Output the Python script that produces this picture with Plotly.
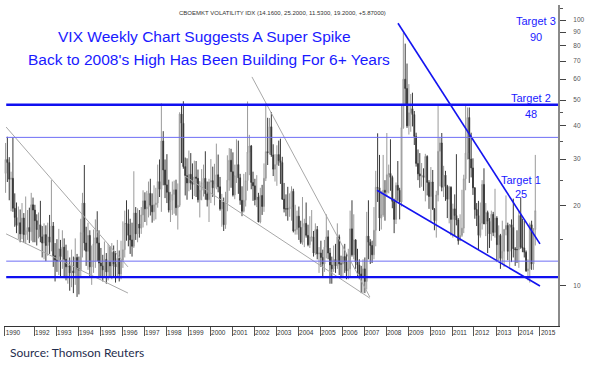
import pandas as pd
import plotly.graph_objects as go

# ---------------- data (monthly approximation of weekly VIX, Sep 1990 - Oct 2014) -------------
start_month = "1990-09-01"
vix_open = [
    26.5, 29.9, 29.1, 25.2,
    25.4, 19.6, 18.1, 16.9, 17.3, 15.7, 18.0, 15.6, 16.2, 16.6, 16.0, 20.2,
    19.3, 17.6, 16.3, 17.0, 15.3, 14.5, 15.6, 14.2, 15.3, 14.6, 16.8, 13.0,
    12.5, 12.4, 13.8, 12.9, 14.0, 12.6, 11.8, 11.9, 11.2, 11.4, 11.2, 12.8,
    11.6, 11.5, 15.9, 20.5, 14.5, 13.5, 15.5, 11.8, 12.3, 14.4, 15.2, 14.5,
    12.2, 11.9, 11.5, 12.6, 11.3, 12.3, 11.9, 13.4, 12.1, 11.8, 12.7, 11.1,
    12.5, 13.7, 17.2, 17.1, 15.5, 14.9, 14.1, 18.8, 15.7, 17.1, 16.5, 18.5,
    20.9, 19.5, 19.8, 22.3, 20.1, 19.0, 20.2, 20.5, 24.7, 23.1, 35.1, 27.3,
    24.0, 22.5, 19.3, 21.0, 22.1, 23.0, 19.7, 20.1, 44.3, 40.9, 28.1, 26.0,
    24.4, 26.3, 24.4, 24.1, 25.7, 25.4, 21.1, 22.9, 24.5, 25.4, 22.2, 21.1,
    24.6, 24.9, 23.4, 24.1, 26.2, 23.6, 19.5, 20.7, 17.0, 20.6, 25.0, 29.7,
    26.9, 22.0, 26.0, 28.6, 25.5, 21.0, 19.1, 21.0, 24.9, 31.9, 33.6, 24.5,
    23.8, 21.1, 21.6, 17.4, 21.9, 19.9, 25.4, 32.0, 31.7, 39.7, 31.1, 27.5,
    28.6, 31.2, 29.6, 29.1, 21.2, 19.5, 19.5, 19.5, 19.8, 22.7, 16.1, 16.3,
    18.3, 16.6, 14.6, 16.7, 17.2, 15.5, 14.3, 15.3, 15.3, 13.3, 16.3, 13.2,
    13.3, 12.8, 12.1, 14.0, 15.3, 13.3, 12.0, 11.6, 12.6, 11.9, 15.3, 12.1,
    12.1, 12.9, 12.3, 11.4, 11.6, 16.4, 13.1, 14.9, 12.3, 12.0, 11.1, 10.9,
    11.6, 10.4, 15.4, 14.6, 14.2, 13.1, 16.2, 23.5, 23.4, 18.0, 18.5, 22.9,
    22.5, 26.2, 26.5, 25.6, 20.8, 17.8, 23.9, 22.9, 20.7, 39.4, 59.9, 55.3,
    40.0, 44.8, 46.4, 44.1, 36.5, 28.9, 26.4, 25.9, 26.0, 25.6, 30.7, 24.5,
    21.7, 24.6, 19.5, 17.6, 22.0, 32.1, 34.5, 23.5, 26.1, 23.7, 21.2, 23.5,
    17.8, 19.5, 18.4, 17.7, 14.8, 15.5, 16.5, 25.3, 31.6, 43.0, 30.0, 27.8,
    23.4, 19.4, 18.4, 15.5, 17.2, 24.1, 17.1, 18.9, 17.5, 15.7, 18.6, 15.9,
    18.0, 14.3, 15.5, 12.7, 13.5, 16.3, 16.9, 13.5, 17.0, 16.6, 13.8, 13.7,
    13.7, 18.4, 14.0, 13.9, 13.4, 11.4, 11.6, 17.0, 12.1, 16.3,
]
vix_high = [
    34.5, 36.4, 30.5, 26.9,
    36.2, 22.3, 20.6, 19.9, 19.4, 20.5, 18.8, 21.7, 19.3, 19.7, 22.4, 21.5,
    20.2, 18.6, 18.9, 20.9, 16.8, 17.2, 16.9, 17.3, 18.5, 25.0, 17.4, 14.5,
    15.0, 16.4, 14.9, 16.2, 15.1, 14.3, 13.6, 12.8, 13.7, 12.9, 15.1, 13.2,
    12.9, 17.9, 22.4, 28.5, 16.7, 17.3, 16.2, 14.2, 16.3, 17.8, 19.1, 16.2,
    13.9, 13.1, 14.7, 13.3, 14.4, 14.1, 14.5, 14.2, 13.5, 14.9, 13.6, 14.8,
    17.5, 19.2, 21.0, 19.4, 17.9, 17.3, 27.0, 19.8, 19.6, 19.3, 19.8, 22.9,
    22.5, 22.8, 24.7, 25.3, 22.3, 23.9, 23.4, 28.6, 29.9, 48.6, 38.2, 29.9,
    31.3, 25.1, 22.6, 24.7, 24.9, 25.1, 24.3, 45.0, 47.9, 49.5, 30.4, 30.2,
    32.3, 31.6, 28.9, 29.6, 29.5, 27.4, 24.8, 27.5, 28.6, 32.1, 24.7, 25.3,
    30.0, 28.1, 28.8, 34.3, 31.2, 25.7, 22.2, 21.5, 22.6, 31.0, 33.0, 32.8,
    31.8, 28.6, 35.6, 35.2, 26.4, 23.7, 26.4, 26.8, 49.4, 37.0, 33.9, 26.9,
    25.3, 26.1, 22.4, 23.4, 24.0, 28.9, 48.5, 42.9, 42.8, 45.1, 34.1, 31.3,
    33.8, 35.2, 35.8, 30.6, 24.4, 22.1, 23.6, 22.3, 23.7, 23.2, 20.2, 19.2,
    19.9, 17.6, 21.6, 17.9, 20.6, 17.0, 18.3, 19.3, 16.1, 17.2, 16.8, 14.0,
    14.8, 13.7, 14.9, 18.6, 16.2, 13.9, 12.9, 14.2, 14.4, 17.2, 15.6, 13.0,
    14.2, 14.4, 13.3, 13.8, 19.2, 21.0, 18.6, 15.0, 13.8, 12.6, 11.9, 12.6,
    12.8, 19.0, 21.0, 15.0, 14.8, 19.8, 27.1, 37.5, 31.1, 22.8, 31.1, 25.0,
    37.6, 28.6, 35.6, 26.0, 21.3, 24.5, 29.5, 23.4, 48.4, 89.5, 81.5, 68.6,
    57.4, 52.7, 53.3, 45.5, 37.7, 32.6, 31.6, 29.0, 27.7, 31.4, 31.0, 25.0,
    28.0, 27.3, 19.6, 22.8, 48.2, 36.2, 37.6, 28.3, 27.1, 24.0, 23.8, 23.7,
    20.4, 22.1, 31.3, 18.0, 18.6, 23.0, 26.2, 48.0, 46.9, 46.9, 37.7, 30.2,
    23.5, 20.5, 20.9, 20.6, 25.0, 27.7, 20.5, 19.2, 18.0, 19.2, 19.0, 23.2,
    18.3, 16.9, 15.7, 17.6, 16.4, 21.9, 17.3, 17.1, 17.8, 21.3, 14.0, 16.2,
    19.2, 21.5, 17.9, 17.6, 13.6, 12.6, 17.3, 17.6, 16.5, 31.1,
]
vix_low = [
    22.4, 24.6, 21.0, 19.1,
    19.0, 16.7, 15.8, 15.0, 14.6, 15.0, 14.6, 14.4, 14.9, 14.5, 14.8, 14.6,
    14.6, 14.2, 15.1, 14.6, 12.8, 12.6, 12.4, 13.0, 13.2, 13.5, 11.8, 10.4,
    11.3, 11.0, 10.9, 11.6, 10.7, 10.5, 10.2, 9.6, 9.9, 9.4, 10.1, 9.1,
    9.3, 10.8, 12.8, 13.6, 11.9, 11.5, 10.9, 10.1, 11.2, 11.7, 12.4, 10.9,
    10.7, 10.4, 10.8, 10.2, 10.5, 10.8, 10.6, 10.9, 10.3, 10.7, 10.4, 10.6,
    11.7, 12.8, 14.8, 14.1, 13.2, 12.9, 13.9, 14.9, 14.6, 15.2, 15.7, 16.6,
    17.4, 16.9, 18.1, 18.4, 17.3, 17.6, 17.8, 19.7, 21.6, 19.0, 23.9, 21.4,
    20.5, 18.9, 17.4, 18.5, 18.7, 18.4, 16.3, 19.8, 29.0, 27.6, 21.9, 21.1,
    22.7, 23.0, 21.2, 21.8, 21.6, 20.6, 18.1, 21.0, 21.7, 21.1, 19.9, 17.4,
    20.5, 21.6, 20.1, 23.1, 22.5, 19.2, 16.7, 16.1, 16.4, 19.1, 22.8, 23.4,
    21.7, 21.2, 24.4, 22.2, 20.2, 18.3, 18.9, 19.9, 22.8, 26.1, 23.1, 20.9,
    20.1, 19.8, 17.4, 17.2, 18.5, 19.0, 24.8, 28.5, 31.2, 30.6, 25.9, 24.7,
    23.8, 28.3, 24.2, 21.1, 18.9, 18.3, 17.6, 18.2, 17.6, 15.9, 15.6, 15.6,
    14.9, 14.4, 14.3, 14.0, 15.2, 14.1, 13.9, 14.7, 12.9, 13.1, 12.6, 11.2,
    11.8, 10.9, 11.3, 12.7, 12.6, 10.2, 10.2, 11.3, 11.2, 11.6, 11.0, 10.7,
    10.9, 11.2, 10.6, 10.6, 10.9, 12.9, 12.6, 11.6, 10.9, 10.6, 9.4, 9.4,
    9.4, 9.7, 12.6, 12.1, 12.2, 12.6, 14.1, 20.7, 16.1, 16.3, 18.2, 17.6,
    21.6, 22.3, 22.8, 19.6, 15.8, 17.1, 20.9, 17.8, 19.9, 39.0, 47.6, 39.3,
    37.1, 38.0, 39.8, 33.9, 28.1, 25.0, 23.4, 23.6, 22.8, 20.8, 21.9, 19.5,
    17.4, 19.3, 16.2, 15.2, 20.8, 23.7, 22.7, 21.6, 20.9, 18.0, 17.2, 15.5,
    15.2, 15.4, 16.9, 14.3, 14.9, 15.3, 15.8, 22.9, 29.9, 24.4, 25.6, 22.0,
    17.9, 16.8, 13.7, 15.2, 16.3, 17.1, 15.4, 13.3, 13.9, 14.8, 15.4, 15.2,
    12.3, 12.3, 11.6, 12.2, 11.8, 15.5, 12.5, 11.8, 12.3, 12.8, 11.9, 12.2,
    11.7, 13.8, 13.4, 12.8, 11.3, 10.5, 10.3, 11.5, 11.5, 14.2,
]
vix_close = [
    29.9, 29.1, 25.2, 25.4,
    19.6, 18.1, 16.9, 17.3, 15.7, 18.0, 15.6, 16.2, 16.6, 16.0, 20.2, 19.3,
    17.6, 16.3, 17.0, 15.3, 14.5, 15.6, 14.2, 15.3, 14.6, 16.8, 13.0, 12.5,
    12.4, 13.8, 12.9, 14.0, 12.6, 11.8, 11.9, 11.2, 11.4, 11.2, 12.8, 11.6,
    11.5, 15.9, 20.5, 14.5, 13.5, 15.5, 11.8, 12.3, 14.4, 15.2, 14.5, 12.2,
    11.9, 11.5, 12.6, 11.3, 12.3, 11.9, 13.4, 12.1, 11.8, 12.7, 11.1, 12.5,
    13.7, 17.2, 17.1, 15.5, 14.9, 14.1, 18.8, 15.7, 17.1, 16.5, 18.5, 20.9,
    19.5, 19.8, 22.3, 20.1, 19.0, 20.2, 20.5, 24.7, 23.1, 35.1, 27.3, 24.0,
    22.5, 19.3, 21.0, 22.1, 23.0, 19.7, 20.1, 44.3, 40.9, 28.1, 26.0, 24.4,
    26.3, 24.4, 24.1, 25.7, 25.4, 21.1, 22.9, 24.5, 25.4, 22.2, 21.1, 24.6,
    24.9, 23.4, 24.1, 26.2, 23.6, 19.5, 20.7, 17.0, 20.6, 25.0, 29.7, 26.9,
    22.0, 26.0, 28.6, 25.5, 21.0, 19.1, 21.0, 24.9, 31.9, 33.6, 24.5, 23.8,
    21.1, 21.6, 17.4, 21.9, 19.9, 25.4, 32.0, 31.7, 39.7, 31.1, 27.5, 28.6,
    31.2, 29.6, 29.1, 21.2, 19.5, 19.5, 19.5, 19.8, 22.7, 16.1, 16.3, 18.3,
    16.6, 14.6, 16.7, 17.2, 15.5, 14.3, 15.3, 15.3, 13.3, 16.3, 13.2, 13.3,
    12.8, 12.1, 14.0, 15.3, 13.3, 12.0, 11.6, 12.6, 11.9, 15.3, 12.1, 12.1,
    12.9, 12.3, 11.4, 11.6, 16.4, 13.1, 14.9, 12.3, 12.0, 11.1, 10.9, 11.6,
    10.4, 15.4, 14.6, 14.2, 13.1, 16.2, 23.5, 23.4, 18.0, 18.5, 22.9, 22.5,
    26.2, 26.5, 25.6, 20.8, 17.8, 23.9, 22.9, 20.7, 39.4, 59.9, 55.3, 40.0,
    44.8, 46.4, 44.1, 36.5, 28.9, 26.4, 25.9, 26.0, 25.6, 30.7, 24.5, 21.7,
    24.6, 19.5, 17.6, 22.0, 32.1, 34.5, 23.5, 26.1, 23.7, 21.2, 23.5, 17.8,
    19.5, 18.4, 17.7, 14.8, 15.5, 16.5, 25.3, 31.6, 43.0, 30.0, 27.8, 23.4,
    19.4, 18.4, 15.5, 17.2, 24.1, 17.1, 18.9, 17.5, 15.7, 18.6, 15.9, 18.0,
    14.3, 15.5, 12.7, 13.5, 16.3, 16.9, 13.5, 17.0, 16.6, 13.8, 13.7, 13.7,
    18.4, 14.0, 13.9, 13.4, 11.4, 11.6, 17.0, 12.1, 16.3, 19.2,
]

# horizontal support / resistance levels
level_thick = [48.0, 10.8]
level_thin = [36.2, 12.4]

# trend lines: (date, value) pairs
blue_trends = [
    (["2008-07-18", "2015-01-01"], [97.2, 14.4]),
    (["2007-08-04", "2015-01-01"], [22.9, 10.0]),
]
grey_trends = [
    (["1990-09-24", "1996-04-08"], [39.6, 11.8]),
    (["1990-09-24", "1996-04-08"], [15.7, 9.41]),
    (["2001-11-27", "2007-04-08"], [61.1, 9.09]),
    (["1998-11-10", "2007-04-08"], [25.9, 9.0]),
]

year_ticks = ["1990"] + [str(y) for y in range(1992, 2016)]
y_ticks = [10, 20, 30, 40, 50, 60, 70, 80, 90, 100]
y_minor = [15, 25, 35, 45, 110]

targets = [("Target 3", "90"), ("Target 2", "48"), ("Target 1", "25")]

# ---------------- figure ----------------
W, H = 591, 368
L, R, T, B = 4, 558, 5, 326
def px(x):
    return (x - L) / (R - L)
def py(y):
    return (B - y) / (B - T)

dates = pd.date_range(start=start_month, periods=len(vix_close), freq="MS") + pd.Timedelta(days=14)

fig = go.Figure()
fig.add_trace(go.Candlestick(
    x=dates, open=vix_open, high=vix_high, low=vix_low, close=vix_close,
    increasing=dict(line=dict(color="#9a9a9a", width=1), fillcolor="#cfcfcf"),
    decreasing=dict(line=dict(color="#3a3a3a", width=1), fillcolor="#000000"),
    whiskerwidth=0, showlegend=False, hoverinfo="skip",
))

for xs, ys in grey_trends:
    fig.add_trace(go.Scatter(x=xs, y=ys, mode="lines", line=dict(color="#a8a8a8", width=1),
                             showlegend=False, hoverinfo="skip"))
for xs, ys in blue_trends:
    fig.add_trace(go.Scatter(x=xs, y=ys, mode="lines", line=dict(color="#1414f0", width=1.6),
                             showlegend=False, hoverinfo="skip"))

for v in level_thick:
    fig.add_shape(type="line", xref="paper", yref="y", x0=0.004, x1=1, y0=v, y1=v,
                  line=dict(color="#1010f0", width=2.4))
for v in level_thin:
    fig.add_shape(type="line", xref="paper", yref="y", x0=0.004, x1=1, y0=v, y1=v,
                  line=dict(color="#6f6ff5", width=1))

tick_dates = ["1990-09-01"] + [f"{y}-01-01" for y in range(1992, 2016)]

font_main = "Liberation Sans, Arial, sans-serif"
blue = "#1a1aff"

fig.update_layout(
    width=W, height=H,
    margin=dict(l=L, r=W - R, t=T, b=H - B, autoexpand=False),
    paper_bgcolor="white", plot_bgcolor="white",
    xaxis=dict(
        type="date", range=["1990-08-20", "2015-10-27"],
        rangeslider=dict(visible=False), showgrid=False, zeroline=False,
        showline=True, linecolor="#333", linewidth=1,
        tickvals=tick_dates, ticktext=year_ticks, tickangle=0,
        ticks="outside", ticklen=9, tickcolor="#555", tickwidth=1,
        ticklabelposition="outside right", automargin=False,
        tickfont=dict(family=font_main, size=6.5, color="#333"),
    ),
    yaxis=dict(
        type="log", range=[0.8496, 2.0564], side="right",
        showgrid=False, zeroline=False,
        showline=True, linecolor="#8a8a8a", linewidth=2,
        tickvals=y_ticks, ticktext=[str(v) for v in y_ticks],
        ticks="outside", ticklen=6, tickcolor="#444", tickwidth=1,
        ticklabelstandoff=6,
        tickfont=dict(family=font_main, size=6.5, color="#555"),
        minor=dict(tickvals=y_minor, ticks="outside", ticklen=3, tickcolor="#555"),
        automargin=False,
    ),
)

ann = []
ann.append(dict(text="CBOEMKT VOLATILITY IDX (14.1600, 25.2000, 11.5300, 19.2000, +5.87000)",
                x=px(282), y=py(13), font=dict(family=font_main, size=6, color="#333")))
ann.append(dict(text="VIX Weekly Chart Suggests A Super Spike",
                x=px(204), y=py(36), font=dict(family=font_main, size=15.5, color=blue)))
ann.append(dict(text="Back to 2008's High Has Been Building For 6+ Years",
                x=px(209), y=py(59), font=dict(family=font_main, size=15.5, color=blue)))
target_pos = [((536, 21), (536, 37)), ((531, 98), (531, 114)), ((521, 180), (521, 194))]
for (t1, t2), ((x1, y1), (x2, y2)) in zip(targets, target_pos):
    ann.append(dict(text=t1, x=px(x1), y=py(y1), font=dict(family=font_main, size=11, color=blue)))
    ann.append(dict(text=t2, x=px(x2), y=py(y2), font=dict(family=font_main, size=11, color=blue)))
ann.append(dict(text="Source: Thomson Reuters", x=px(8), y=py(353), xanchor="left",
                font=dict(family="Lato, Carlito, Open Sans, sans-serif", size=12, color="#1f2d4d")))
for a in ann:
    a.setdefault("xanchor", "center")
    a.update(xref="paper", yref="paper", yanchor="middle", showarrow=False)
fig.update_layout(annotations=ann)

fig.write_html("out.html", config={"displayModeBar": False, "staticPlot": True},
               post_script="document.body.style.margin='0';document.body.style.overflow='hidden';")
